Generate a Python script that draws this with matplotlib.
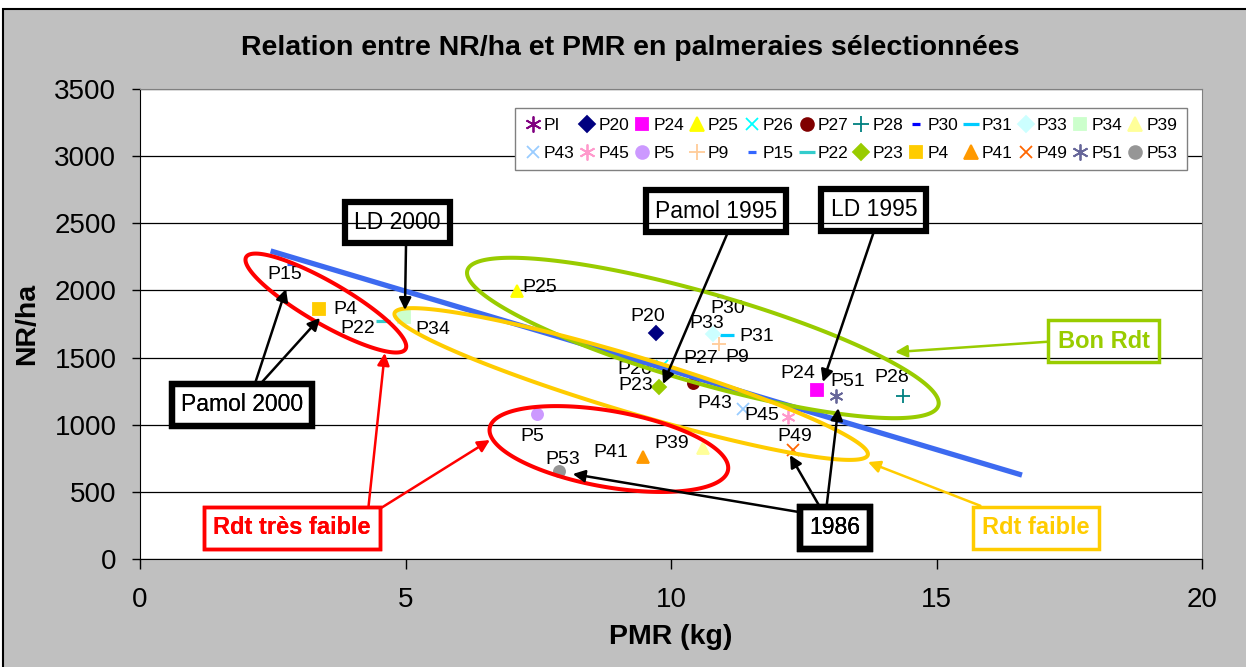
import numpy as np
import matplotlib.pyplot as plt
from matplotlib.patches import Rectangle, Polygon

plt.rcParams['font.family'] = ['Liberation Sans', 'DejaVu Sans']

# series, in legend order (two rows of 12)
names = ["PI", "P20", "P24", "P25", "P26", "P27", "P28", "P30", "P31", "P33", "P34", "P39",
         "P43", "P45", "P5", "P9", "P15", "P22", "P23", "P4", "P41", "P49", "P51", "P53"]
pmr = [np.nan, 9.72, 12.75, 7.1, 9.83, 10.42, 14.37, 10.92, 11.05, 10.79, 4.97, 10.6,
       11.36, 12.2, 7.48, 10.9, 2.82, 4.58, 9.78, 3.37, 9.47, 12.3, 13.1, 7.89]
nrha = [np.nan, 1683, 1258, 1995, 1437, 1310, 1214, 1958, 1668, 1675, 1802, 826,
        1117, 1057, 1080, 1600, 2197, 1772, 1281, 1861, 760, 812, 1214, 655]

# trend line end points
trend_pmr = [2.46, 16.61]
trend_nrha = [2294, 625]

# excel style markers: marker, colour, size
styles = {
    "PI": ((6, 2, 0), "#800080", 10), "P20": ("D", "#000080", 7), "P24": ("s", "#FF00FF", 8),
    "P25": ("^", "#FFFF00", 9), "P26": ("x", "#00FFFF", 8), "P27": ("o", "#800000", 8),
    "P28": ("+", "#008080", 10), "P30": ("_", "#0000FF", 5), "P31": ("_", "#00CCFF", 9.5),
    "P33": ("D", "#CCFFFF", 7), "P34": ("s", "#CCFFCC", 8), "P39": ("^", "#FFFF99", 9),
    "P43": ("x", "#99CCFF", 8), "P45": ((6, 2, 0), "#FF99CC", 10), "P5": ("o", "#CC99FF", 8),
    "P9": ("+", "#FFCC99", 10), "P15": ("_", "#3366FF", 5), "P22": ("_", "#33CCCC", 9.5),
    "P23": ("D", "#99CC00", 7), "P4": ("s", "#FFCC00", 8), "P41": ("^", "#FF9900", 9),
    "P49": ("x", "#FF6600", 8), "P51": ((6, 2, 0), "#666699", 10), "P53": ("o", "#969696", 8),
}

# data label offsets in pixels (dx right, dy down)
label_off = {
    "P15": (-5, 11), "P4": (26, 0), "P22": (-25, 7), "P34": (29, 12), "P25": (23, -4),
    "P20": (-8, -16), "P30": (8, 12), "P33": (-6, -11), "P31": (30, 1), "P9": (18, 13),
    "P27": (7, -25), "P26": (-27, 3), "P23": (-24, -1), "P43": (-28, -6), "P45": (-26, -2),
    "P24": (-19, -17), "P51": (12, -14), "P28": (-11, -18), "P49": (2, -13), "P39": (-31, -5),
    "P41": (-32, -4), "P53": (4, -12), "P5": (-5, 23),
}

W, H = 1246, 667
L, R, T, B = 140, 1202, 89, 559
fig = plt.figure(figsize=(W / 100, H / 100), dpi=100)
fig.patch.set_facecolor("white")
fig.add_artist(Rectangle((3 / W, -0.01), 1.0, 1 - 9 / H + 0.01, transform=fig.transFigure,
                         fc="#C0C0C0", ec="black", lw=1.5, zorder=-10))
ax = fig.add_axes([L / W, 1 - B / H, (R - L) / W, (B - T) / H])
ax.set_facecolor("white")

ppx = (R - L) / 20.0
ppy = (B - T) / 3500.0

handles = []
for n, x, y in zip(names, pmr, nrha):
    m, c, s = styles[n]
    mew = 1.3
    if m == "_":
        mew = 2.3
    h, = ax.plot([x], [y], linestyle="none", marker=m, color=c, markersize=s,
                 markeredgewidth=mew, label=n, zorder=3)
    handles.append(h)
    if n in label_off:
        dx, dy = label_off[n]
        ax.annotate(n, (x, y), xytext=(dx, -dy), textcoords="offset pixels",
                    ha="center", va="center", fontsize=14, zorder=4)

ax.plot(trend_pmr, trend_nrha, color="#3D6AF0", lw=3.8, zorder=5, solid_capstyle="butt")


def ellipse(cx, cy, a, b, ang, color):
    t = np.linspace(0, 2 * np.pi, 300)
    th = np.radians(ang)
    u, v = a * np.cos(t), b * np.sin(t)
    dx = u * np.cos(th) - v * np.sin(th)
    dy = u * np.sin(th) + v * np.cos(th)
    pts = np.column_stack([cx + dx / ppx, cy - dy / ppy])
    ax.add_patch(Polygon(pts, closed=True, fill=False, ec=color, lw=2.9, zorder=6))


ellipse(3.50, 1906, 92, 21, 30, "#FF0000")
ellipse(10.60, 1646, 245, 45, 16, "#99CC00")
ellipse(9.25, 1303, 247, 28, 16.7, "#FFCC00")
ellipse(8.83, 819, 121, 38, 10, "#FF0000")


def callout(text, xy, targets, rel, color="black", bold=False, lw=4.5, size=16.5):
    box = dict(boxstyle="square,pad=0.4", fc="none", ec=color, lw=lw)
    for tgt in targets:
        ax.annotate(text, xy=tgt, xytext=xy, ha="center", va="center", fontsize=size,
                    color=color, fontweight="bold" if bold else "normal", bbox=box, zorder=7,
                    arrowprops=dict(arrowstyle="-|>", color=color, lw=1.8, mutation_scale=18,
                                    shrinkA=0, shrinkB=0, relpos=rel))


callout("LD 2000", (4.85, 2506), [(4.99, 1854)], (0.6, 0.0))
callout("Pamol 2000", (1.92, 1147), [(2.75, 2011), (3.39, 1795)], (0.58, 1.0))
callout("Pamol 1995", (10.85, 2591), [(9.85, 1303)], (0.63, 0.0))
callout("LD 1995", (13.82, 2599), [(12.86, 1318)], (0.54, 0.0))
callout("1986", (13.09, 231), [(8.15, 633), (12.24, 774), (13.15, 1124)], (0.31, 1.0))
callout("Rdt très faible", (2.86, 231), [(4.61, 1534), (6.59, 886)], (0.98, 1.0),
        color="#FF0000", bold=True, lw=2.5, size=17)
callout("Bon Rdt", (18.15, 1623), [(14.22, 1541)], (0.0, 0.5),
        color="#99CC00", bold=True, lw=2.5, size=17)
callout("Rdt faible", (16.87, 231), [(13.71, 722)], (0.24, 1.0),
        color="#FFCC00", bold=True, lw=2.5, size=17)

ax.set_xlim(0, 20)
ax.set_ylim(0, 3500)
ax.set_xticks(range(0, 21, 5))
ax.set_yticks(range(0, 3501, 500))
ax.yaxis.grid(True, color="black", lw=0.9)
ax.set_axisbelow(True)
ax.tick_params(axis="x", direction="out", length=7, width=1, pad=13, labelsize=20)
ax.tick_params(axis="y", direction="out", length=6, width=1, pad=11, labelsize=20)
for s in ["top", "right"]:
    ax.spines[s].set_color("#808080")
for s in ["left", "bottom"]:
    ax.spines[s].set_color("black")

ax.set_xlabel("PMR (kg)", fontsize=20.5, fontweight="bold", labelpad=8)
ax.set_ylabel("NR/ha", fontsize=20.5, fontweight="bold", labelpad=10)
fig.text(630 / W, 1 - 48 / H, "Relation entre NR/ha et PMR en palmeraies sélectionnées",
         ha="center", va="center", fontsize=20.5, fontweight="bold")

# legend filled column by column, so interleave the two rows
order = [i for pair in zip(range(12), range(12, 24)) for i in pair]
leg = ax.legend([handles[i] for i in order], [names[i] for i in order], ncol=12,
                loc="upper right", bbox_to_anchor=(1187 / W, 1 - 108 / H),
                bbox_transform=fig.transFigure, borderaxespad=0, fontsize=12.5,
                handlelength=0.9, handletextpad=0.2, columnspacing=0.28, borderpad=0.55,
                labelspacing=0.75, markerscale=1.15, fancybox=False, framealpha=1,
                edgecolor="#808080")
leg.set_zorder(8)

fig.savefig("out.png", dpi=100)
